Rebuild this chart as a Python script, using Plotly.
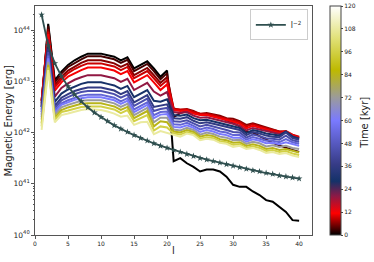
import plotly.graph_objects as go
from plotly.colors import sample_colorscale

ell = list(range(1, 41))
times = [0, 3, 6, 9, 12, 20, 28, 36, 44, 52, 60, 72, 84, 96, 108]

# log10 of magnetic energy [erg], one list per snapshot (l = 1..40)
logE_t000 = [42.50, 44.12, 43.02, 43.19, 43.32, 43.41, 43.48, 43.54, 43.54, 43.54, 43.51, 43.48, 43.41, 43.47, 43.25, 43.32, 43.39, 43.25, 43.09, 43.21,
             41.44, 41.50, 41.40, 41.33, 41.24, 41.28, 41.28, 41.24, 41.14, 40.98, 40.94, 40.94, 40.85, 40.78, 40.68, 40.65, 40.55, 40.45, 40.29, 40.28]
logE_t003 = [42.58, 44.08, 42.98, 43.15, 43.28, 43.36, 43.43, 43.49, 43.49, 43.49, 43.46, 43.43, 43.36, 43.42, 43.20, 43.27, 43.34, 43.20, 43.04, 43.16,
             42.30, 42.38, 42.42, 42.38, 42.35, 42.36, 42.32, 42.30, 42.24, 42.18, 42.12, 42.02, 42.00, 41.93, 41.86, 41.80, 41.75, 41.70, 41.66, 41.62]
logE_t006 = [42.62, 44.02, 42.92, 43.09, 43.21, 43.29, 43.36, 43.41, 43.41, 43.41, 43.38, 43.35, 43.28, 43.34, 43.12, 43.19, 43.26, 43.12, 42.97, 43.08,
             42.47, 42.44, 42.46, 42.42, 42.36, 42.38, 42.36, 42.33, 42.28, 42.27, 42.22, 42.15, 42.18, 42.14, 42.10, 42.07, 42.02, 42.00, 41.95, 41.90]
logE_t009 = [42.63, 43.97, 42.88, 43.04, 43.16, 43.24, 43.30, 43.35, 43.35, 43.35, 43.32, 43.29, 43.22, 43.28, 43.06, 43.13, 43.20, 43.06, 42.91, 43.02,
             42.46, 42.45, 42.45, 42.40, 42.37, 42.36, 42.34, 42.30, 42.27, 42.24, 42.20, 42.12, 42.16, 42.12, 42.08, 42.05, 42.02, 42.03, 41.96, 41.92]
logE_t012 = [42.62, 43.92, 42.82, 42.98, 43.09, 43.16, 43.22, 43.27, 43.27, 43.27, 43.24, 43.21, 43.14, 43.20, 42.98, 43.05, 43.12, 42.98, 42.83, 42.94,
             42.44, 42.42, 42.43, 42.37, 42.34, 42.34, 42.31, 42.28, 42.24, 42.21, 42.17, 42.08, 42.13, 42.09, 42.05, 42.02, 41.99, 42.02, 41.95, 41.90]
logE_t020 = [42.55, 43.82, 42.70, 42.87, 42.96, 43.03, 43.08, 43.12, 43.12, 43.12, 43.09, 43.06, 42.99, 43.05, 42.83, 42.90, 42.97, 42.80, 42.72, 42.79,
             42.40, 42.38, 42.40, 42.33, 42.29, 42.30, 42.27, 42.24, 42.20, 42.17, 42.13, 42.04, 42.09, 42.06, 42.02, 41.99, 41.97, 42.01, 41.93, 41.89]
logE_t028 = [42.50, 43.72, 42.60, 42.76, 42.84, 42.90, 42.95, 42.98, 42.98, 42.98, 42.95, 42.92, 42.85, 42.91, 42.69, 42.76, 42.83, 42.62, 42.60, 42.65,
             42.34, 42.33, 42.35, 42.28, 42.24, 42.25, 42.22, 42.19, 42.15, 42.12, 42.09, 41.99, 42.05, 42.02, 41.98, 41.96, 41.94, 42.02, 41.92, 41.88]
logE_t036 = [42.45, 43.64, 42.52, 42.68, 42.75, 42.81, 42.85, 42.88, 42.88, 42.88, 42.85, 42.82, 42.75, 42.81, 42.59, 42.66, 42.73, 42.50, 42.52, 42.55,
             42.28, 42.27, 42.30, 42.23, 42.18, 42.20, 42.17, 42.14, 42.10, 42.07, 42.05, 41.95, 42.01, 41.98, 41.94, 41.92, 41.91, 42.00, 41.89, 41.86]
logE_t044 = [42.40, 43.57, 42.47, 42.63, 42.69, 42.75, 42.79, 42.81, 42.81, 42.81, 42.78, 42.75, 42.68, 42.74, 42.52, 42.59, 42.66, 42.42, 42.46, 42.48,
             42.22, 42.21, 42.24, 42.18, 42.12, 42.15, 42.12, 42.08, 42.05, 42.01, 42.00, 41.90, 41.96, 41.93, 41.89, 41.88, 41.86, 41.94, 41.85, 41.82]
logE_t052 = [42.35, 43.50, 42.42, 42.57, 42.63, 42.68, 42.72, 42.74, 42.74, 42.74, 42.71, 42.68, 42.61, 42.67, 42.45, 42.52, 42.59, 42.34, 42.40, 42.41,
             42.16, 42.15, 42.19, 42.13, 42.06, 42.10, 42.07, 42.02, 42.00, 41.95, 41.95, 41.86, 41.91, 41.88, 41.84, 41.84, 41.81, 41.87, 41.81, 41.78]
logE_t060 = [42.30, 43.45, 42.38, 42.54, 42.59, 42.64, 42.67, 42.69, 42.69, 42.69, 42.66, 42.63, 42.56, 42.62, 42.40, 42.47, 42.54, 42.28, 42.35, 42.36,
             42.11, 42.10, 42.14, 42.09, 42.01, 42.05, 42.02, 41.97, 41.95, 41.90, 41.90, 41.82, 41.87, 41.84, 41.79, 41.80, 41.77, 41.81, 41.77, 41.74]
logE_t072 = [42.25, 43.38, 42.34, 42.49, 42.54, 42.58, 42.62, 42.63, 42.63, 42.63, 42.60, 42.57, 42.50, 42.56, 42.34, 42.41, 42.48, 42.20, 42.29, 42.29,
             42.06, 42.04, 42.09, 42.05, 41.96, 42.00, 41.97, 41.92, 41.90, 41.85, 41.86, 41.78, 41.82, 41.79, 41.73, 41.75, 41.72, 41.74, 41.70, 41.68]
logE_t084 = [42.18, 43.32, 42.29, 42.44, 42.49, 42.53, 42.56, 42.57, 42.57, 42.57, 42.54, 42.51, 42.44, 42.50, 42.28, 42.35, 42.42, 42.12, 42.22, 42.20,
             42.02, 42.00, 42.05, 42.01, 41.92, 41.95, 41.93, 41.87, 41.85, 41.80, 41.81, 41.74, 41.77, 41.74, 41.68, 41.70, 41.66, 41.68, 41.64, 41.61]
logE_t096 = [42.12, 43.27, 42.25, 42.40, 42.43, 42.47, 42.50, 42.51, 42.51, 42.51, 42.48, 42.45, 42.38, 42.44, 42.22, 42.28, 42.34, 42.04, 42.12, 42.10,
             41.98, 41.96, 42.01, 41.98, 41.88, 41.91, 41.89, 41.83, 41.81, 41.76, 41.77, 41.70, 41.73, 41.70, 41.64, 41.66, 41.62, 41.64, 41.59, 41.56]
logE_t108 = [42.05, 43.22, 42.20, 42.34, 42.37, 42.41, 42.44, 42.46, 42.45, 42.44, 42.41, 42.37, 42.31, 42.33, 42.15, 42.20, 42.21, 41.97, 42.03, 41.99,
             41.95, 41.92, 41.98, 41.95, 41.85, 41.88, 41.86, 41.80, 41.78, 41.72, 41.74, 41.68, 41.70, 41.66, 41.60, 41.62, 41.58, 41.60, 41.55, 41.52]

# reference l^-2 curve (log10 values)
log_lm2 = [44.30, 43.70, 43.35, 43.10, 42.90, 42.74, 42.61, 42.49, 42.39, 42.30, 42.22, 42.14, 42.07, 42.01, 41.95, 41.89, 41.84, 41.79, 41.74, 41.70,
           41.66, 41.62, 41.58, 41.54, 41.50, 41.47, 41.44, 41.41, 41.38, 41.35, 41.32, 41.29, 41.26, 41.24, 41.21, 41.19, 41.16, 41.14, 41.12, 41.10]

series = [logE_t000, logE_t003, logE_t006, logE_t009, logE_t012, logE_t020, logE_t028, logE_t036,
          logE_t044, logE_t052, logE_t060, logE_t072, logE_t084, logE_t096, logE_t108]

cbar_ticks = list(range(0, 121, 12))

cscale = [
    [0.00, "rgb(0,0,0)"],
    [0.095, "rgb(255,0,0)"],
    [0.17, "rgb(140,25,70)"],
    [0.235, "rgb(20,50,105)"],
    [0.31, "rgb(55,60,135)"],
    [0.50, "rgb(122,122,255)"],
    [0.60, "rgb(155,155,155)"],
    [0.72, "rgb(190,185,0)"],
    [0.86, "rgb(225,225,120)"],
    [1.00, "rgb(255,255,255)"],
]

line_colors = sample_colorscale(cscale, [t / 120 for t in times])

fig = go.Figure()
for t, s, c in zip(times, series, line_colors):
    fig.add_trace(go.Scatter(
        x=ell, y=[10 ** v for v in s], mode="lines",
        line=dict(color=c, width=2), showlegend=False, hoverinfo="skip"))

fig.add_trace(go.Scatter(
    x=ell, y=[10 ** v for v in log_lm2], mode="lines+markers",
    line=dict(color="#2f4f4f", width=1.8),
    marker=dict(symbol="star", size=5, color="#2f4f4f"),
    name="l<sup>−2</sup>", showlegend=True))

# colorbar carrier
fig.add_trace(go.Scatter(
    x=[None, None], y=[None, None], mode="markers", showlegend=False,
    marker=dict(color=[0, 120], cmin=0, cmax=120, colorscale=cscale, showscale=True,
                colorbar=dict(
                    x=1.064, xanchor="left", y=0.5, yanchor="middle",
                    len=1, lenmode="fraction", thickness=11, thicknessmode="pixels",
                    xpad=0, ypad=0, outlinewidth=1, outlinecolor="#444",
                    tickvals=cbar_ticks, ticks="outside", ticklen=2, tickcolor="#444",
                    tickfont=dict(size=6, color="#222", family="DejaVu Sans"),
                ))))

fig.update_layout(
    width=374, height=262,
    margin=dict(l=35, r=62, t=6, b=27),
    paper_bgcolor="white", plot_bgcolor="white",
    font=dict(family="DejaVu Sans", color="#222"),
    legend=dict(x=0.985, y=0.985, xanchor="right", yanchor="top",
                bordercolor="#cccccc", borderwidth=1, bgcolor="white",
                font=dict(size=8, family="DejaVu Sans"), itemwidth=30,
                tracegroupgap=0),
    annotations=[
        dict(text="Magnetic Energy [erg]", xref="paper", yref="paper",
             x=-0.094, y=0.5, xanchor="center", yanchor="middle", textangle=-90,
             showarrow=False, font=dict(size=10, family="DejaVu Sans", color="#222")),
        dict(text="l", xref="paper", yref="paper", x=0.499, y=-0.066,
             xanchor="center", yanchor="middle", showarrow=False,
             font=dict(size=10, family="DejaVu Sans", color="#222")),
        dict(text="Time [kyr]", xref="paper", yref="paper", x=1.191, y=0.49,
             xanchor="center", yanchor="middle", textangle=-90, showarrow=False,
             font=dict(size=10, family="DejaVu Sans", color="#222")),
    ],
)

fig.update_xaxes(range=[0, 41.95], tickvals=[0, 5, 10, 15, 20, 25, 30, 35, 40],
                 showgrid=False, zeroline=False, showline=True, mirror=True,
                 linecolor="#555", linewidth=1, ticks="outside", ticklen=3,
                 tickcolor="#555", tickfont=dict(size=6, color="#222"))
fig.update_yaxes(type="log", range=[40, 44.47], dtick=1, exponentformat="power",
                 showexponent="all",
                 showgrid=False, zeroline=False, showline=True, mirror=True,
                 linecolor="#555", linewidth=1, ticks="outside", ticklen=3,
                 tickcolor="#555", tickfont=dict(size=6, color="#222"),
                 minor=dict(ticks="outside", ticklen=1.5, tickcolor="#555", showgrid=False))

fig.write_html("out.html", config={"displayModeBar": False},
               post_script="document.body.style.margin='0';document.body.style.padding='0';")
